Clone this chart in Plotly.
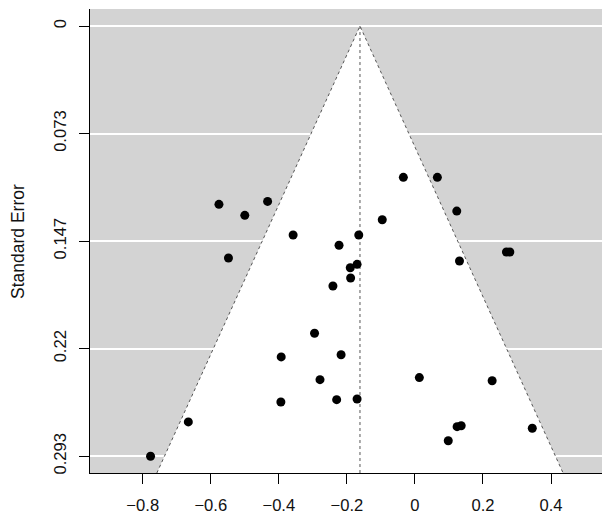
import plotly.graph_objects as go

effect = [-0.777, -0.666, -0.576, -0.500, -0.433, -0.548, -0.358, -0.165, -0.223,
          -0.170, -0.190, -0.189, -0.241, -0.034, 0.066, 0.123, -0.096, 0.269,
          0.279, 0.131, -0.295, -0.393, -0.217, -0.279, -0.394, -0.230, -0.170,
          0.013, 0.227, 0.124, 0.136, 0.345, 0.098]
std_err = [0.2932, 0.2698, 0.1215, 0.1290, 0.1195, 0.1581, 0.1424, 0.1424, 0.1494,
           0.1624, 0.1647, 0.1717, 0.1772, 0.1031, 0.1031, 0.1261, 0.1320, 0.1540,
           0.1540, 0.1601, 0.2094, 0.2255, 0.2240, 0.2410, 0.2562, 0.2546, 0.2542,
           0.2396, 0.2417, 0.2730, 0.2724, 0.2741, 0.2826]

estimate = -0.1615

y_tickvals = [0, 0.0733, 0.1466, 0.2199, 0.2932]
y_ticktext = ["0", "0.073", "0.147", "0.22", "0.293"]
x_tickvals = [-0.8, -0.6, -0.4, -0.2, 0, 0.2, 0.4]
x_ticktext = ["\u22120.8", "\u22120.6", "\u22120.4", "\u22120.2", "0", "0.2", "0.4"]

x_range = [-0.955, 0.5734]
y_range = [0.3046, -0.0116]

se_bottom = y_range[0]
funnel_x = [estimate - 1.96 * se_bottom, estimate, estimate + 1.96 * se_bottom]
funnel_y = [se_bottom, 0, se_bottom]

fig = go.Figure()

# white pseudo-confidence region
fig.add_trace(go.Scatter(
    x=funnel_x, y=funnel_y,
    mode='lines', fill='toself', fillcolor='white',
    line=dict(color='#555555', width=1, dash='dot'),
    hoverinfo='skip', showlegend=False
))

# vertical line at the estimate
fig.add_trace(go.Scatter(
    x=[estimate, estimate], y=[0, se_bottom],
    mode='lines', line=dict(color='#555555', width=1, dash='dot'),
    hoverinfo='skip', showlegend=False
))

fig.add_trace(go.Scatter(
    x=effect, y=std_err, mode='markers',
    marker=dict(color='black', size=9),
    showlegend=False
))

# page body has an 8px margin, so the figure is shrunk to fit the window
fig.update_layout(
    width=602, height=512,
    margin=dict(l=82, r=0, t=1, b=47),
    paper_bgcolor='white',
    plot_bgcolor='#D3D3D3',
    font=dict(family="Liberation Sans, Arial", size=16.6, color='#111111'),
    xaxis=dict(
        range=x_range, tickvals=x_tickvals, ticktext=x_ticktext,
        showgrid=False, zeroline=False,
        showline=True, linecolor='black', linewidth=1,
        ticks='outside', ticklen=10, tickcolor='black',
        ticklabelstandoff=7,
    ),
    yaxis=dict(
        range=y_range, tickvals=y_tickvals, ticktext=y_ticktext,
        showgrid=True, gridcolor='white', gridwidth=1.5, zeroline=False,
        showline=True, linecolor='black', linewidth=1,
        ticks='outside', ticklen=10, tickcolor='black',
        tickangle=-90, ticklabelstandoff=6,
    ),
    annotations=[dict(
        text="Standard Error", textangle=-90,
        xref='paper', yref='paper', x=-0.1385, y=0.5,
        xanchor='center', yanchor='middle', showarrow=False,
        font=dict(size=17.5, color='#111111')
    )]
)

fig.write_html("out.html")
